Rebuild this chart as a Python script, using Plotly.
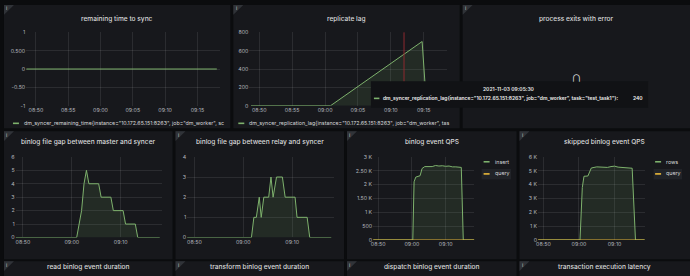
import plotly.graph_objects as go

W, H = 690, 276
DAY = "2021-11-03 "

# ---------------- data ----------------
remaining_time = ["08:48:30", "09:18:00"]
remaining_vals = [0, 0]

lag_time = ["08:48:45", "09:00:50", "09:14:45", "09:15:25"]
lag_vals = [0, 0, 700, 0]

master_gap_time = ["08:48:30", "09:01:00", "09:02:00", "09:02:30", "09:03:00", "09:03:30",
                   "09:05:30", "09:06:00", "09:08:00", "09:08:30", "09:10:30", "09:11:00",
                   "09:13:00", "09:13:30", "09:18:00"]
master_gap_vals = [0, 0, 2, 4, 5, 4, 4, 3, 3, 2, 2, 1, 1, 0, 0]

relay_gap_time = ["08:48:30", "09:01:40", "09:02:10", "09:02:40", "09:03:16", "09:03:40",
                  "09:04:12", "09:05:12", "09:05:40", "09:06:06", "09:06:48", "09:08:00",
                  "09:08:34", "09:10:36", "09:11:00", "09:13:04", "09:13:36", "09:18:00"]
relay_gap_vals = [0, 0, 1, 1, 2, 1, 2, 2, 3, 2, 3, 3, 2, 2, 1, 1, 0, 0]

qps_time = ["08:48:30", "09:00:15", "09:00:38", "09:01:08", "09:02:25", "09:03:00", "09:03:48",
            "09:05:00", "09:06:00", "09:07:00", "09:08:00", "09:09:00", "09:10:00",
            "09:11:00", "09:12:00", "09:13:00", "09:14:00", "09:14:38", "09:15:13", "09:18:30"]
qps_insert = [0, 0, 2100, 2270, 2320, 2580, 2650, 2660, 2650, 2690, 2670, 2680, 2660,
              2670, 2640, 2640, 2630, 2620, 0, 0]
qps_query_time = ["08:48:30", "09:18:30"]
qps_query = [0, 0]

skip_time = ["08:48:30", "09:00:17", "09:00:56", "09:01:24", "09:02:30", "09:03:28",
             "09:05:00", "09:06:00", "09:07:00", "09:08:00", "09:09:00", "09:10:00",
             "09:11:00", "09:12:00", "09:13:00", "09:14:00", "09:14:57", "09:15:53", "09:18:30"]
skip_rows = [0, 0, 3790, 4600, 4620, 5200, 5280, 5250, 5270, 5240, 5300, 5330,
             5260, 5250, 5230, 5200, 5180, 0, 0]
skip_query_time = ["08:48:30", "09:18:30"]
skip_query = [0, 0]

tooltip_time = "2021-11-03 09:05:30"
tooltip_value = 240
crosshair_time = "09:12:00"

# ---------------- styling ----------------
FONT = "Inter"
BG = "#0b0c0e"
PANEL = "#17181c"
GRID = "rgba(255,255,255,0.09)"
TICK = "#b4b7bd"
TITLE = "#d8d9da"
GREEN = "#7eb26d"
GFILL = "rgba(126,178,109,0.12)"
YELLOW = "#eab839"
R0, R1 = DAY + "08:48:30", DAY + "09:18:30"


def fx(px):
    return px / W


def fy(py):
    return 1 - py / H


fig = go.Figure()
layout = dict(
    width=W, height=H, margin=dict(l=0, r=0, t=0, b=0),
    paper_bgcolor=BG, plot_bgcolor="rgba(0,0,0,0)", showlegend=False,
    font=dict(family=FONT, color=TICK, size=5.3),
)
shapes, annos = [], []


def text(x, y, s, size=5.3, color=TITLE, xanchor="center", weight=400):
    annos.append(dict(x=fx(x), y=fy(y), xref="paper", yref="paper", text=s,
                      xanchor=xanchor, yanchor="middle", showarrow=False,
                      font=dict(size=size, color=color, weight=weight)))


def axes(i, p50, s, ytop, ybot, yr, tickvals, ticktext, dtick_min):
    left = p50 - 1.5 * s
    right = p50 + 28.5 * s
    xk = "xaxis" if i == 1 else f"xaxis{i}"
    yk = "yaxis" if i == 1 else f"yaxis{i}"
    layout[xk] = dict(domain=[fx(left), fx(right)], range=[R0, R1], type="date",
                      anchor="y" if i == 1 else f"y{i}", tickformat="%H:%M",
                      tick0=DAY + "08:50:00", dtick=dtick_min * 60000,
                      showgrid=True, gridcolor=GRID, gridwidth=1, zeroline=False,
                      showline=False, ticks="", tickfont=dict(size=5.3, color=TICK))
    layout[yk] = dict(domain=[fy(ybot), fy(ytop)], range=yr,
                      anchor="x" if i == 1 else f"x{i}", tickmode="array",
                      tickvals=tickvals, ticktext=ticktext, showgrid=True,
                      gridcolor=GRID, gridwidth=1, zeroline=False, showline=False,
                      ticks="", tickfont=dict(size=5.3, color=TICK))


def series(i, times, vals, color, fill=True):
    ax = "" if i == 1 else str(i)
    fig.add_trace(go.Scatter(
        x=[DAY + t for t in times], y=vals, mode="lines",
        line=dict(color=color, width=1), fill="tozeroy" if fill else None,
        fillcolor=GFILL if fill else None, xaxis="x" + ax, yaxis="y" + ax,
        hoverinfo="skip"))


def panel(x0, y0, x1, y1, title, ty):
    shapes.append(dict(type="rect", xref="paper", yref="paper", x0=fx(x0), x1=fx(x1),
                       y0=fy(y1), y1=fy(y0), fillcolor=PANEL, line=dict(width=0),
                       layer="below"))
    shapes.append(dict(type="path", xref="paper", yref="paper", layer="above",
                       path=f"M {fx(x0)},{fy(y0)} L {fx(x0 + 10)},{fy(y0)} L {fx(x0)},{fy(y0 + 10)} Z",
                       fillcolor="#303338", line=dict(width=0)))
    text(x0 + 3, y0 + 3.5, "i", size=5, color="#c8c8c8")
    text((x0 + x1) / 2, ty, title, size=6.6, weight=500)


def legend_item(x, y, s, color, size=5.3):
    shapes.append(dict(type="line", xref="paper", yref="paper", x0=fx(x), x1=fx(x + 6),
                       y0=fy(y), y1=fy(y), line=dict(color=color, width=1.6)))
    text(x + 9, y, s, size=size, xanchor="left")


# panels
panel(2, 2, 229, 128, "remaining time to sync", 16.7)
panel(232, 2, 459, 128, "replicate lag", 16.5)
panel(462, 2, 690, 128, "process exits with error", 16.5)
panel(2, 131, 171, 262, "binlog file gap between master and syncer", 142.3)
panel(174, 131, 343, 262, "binlog file gap between relay and syncer", 142.3)
panel(346, 131, 516, 262, "binlog event QPS", 142.3)
panel(519, 131, 690, 262, "skipped binlog event QPS", 142.3)
panel(2, 264, 171, 290, "read binlog event duration", 269.5)
panel(174, 264, 343, 290, "transform binlog event duration", 269.5)
panel(346, 264, 516, 290, "dispatch binlog event duration", 269.5)
panel(519, 264, 690, 290, "transaction execution latency", 269.5)

# axes
axes(1, 34, 6.48, 30, 105, [-1, 1], [1, 0.5, 0, -0.5, -1], ["1", "0.500", "0", "-0.50", "-1"], 5)
axes(2, 258, 6.6, 30, 105, [0, 800], [0, 200, 400, 600, 800], ["0", "200", "400", "600", "800"], 5)
axes(3, 21, 4.9, 157.3, 239.7, [0, 6], list(range(7)), [str(v) for v in range(7)], 10)
axes(4, 193, 4.9, 157.3, 239.7, [0, 4], list(range(5)), [str(v) for v in range(5)], 10)
axes(5, 377.3, 3.383, 157.3, 242.3, [0, 3000], [0, 500, 1000, 1500, 2000, 2500, 3000],
     ["0", "500", "1 K", "1.50 K", "2 K", "2.50 K", "3 K"], 10)
axes(6, 543, 3.567, 157.3, 242.3, [0, 6000], [0, 1000, 2000, 3000, 4000, 5000, 6000],
     ["0", "1 K", "2 K", "3 K", "4 K", "5 K", "6 K"], 10)

# series
series(1, remaining_time, remaining_vals, GREEN)
series(2, lag_time, lag_vals, GREEN)
series(3, master_gap_time, master_gap_vals, GREEN)
series(4, relay_gap_time, relay_gap_vals, GREEN)
series(5, qps_time, qps_insert, GREEN)
series(5, qps_query_time, qps_query, YELLOW, fill=False)
series(6, skip_time, skip_rows, GREEN)
series(6, skip_query_time, skip_query, YELLOW, fill=False)

# legends
legend_item(11, 123, 'dm_syncer_remaining_time{instance="10.172.65.151:8263", job="dm_worker", sc', GREEN)
legend_item(237, 123, 'dm_syncer_replication_lag{instance="10.172.65.151:8263", job="dm_worker", tas', GREEN)
shapes.append(dict(type="rect", xref="paper", yref="paper", x0=fx(481), x1=fx(510.5),
                   y0=fy(180.3), y1=fy(169.7), fillcolor="#212328", line=dict(width=0)))
shapes.append(dict(type="rect", xref="paper", yref="paper", x0=fx(653.5), x1=fx(682),
                   y0=fy(180.3), y1=fy(169.7), fillcolor="#212328", line=dict(width=0)))
legend_item(483, 162.3, "insert", GREEN)
legend_item(483, 174.7, "query", YELLOW)
legend_item(655, 162.3, "rows", GREEN)
legend_item(655, 174.7, "query", YELLOW)

# crosshair + tooltip
shapes.append(dict(type="line", xref="x2", yref="paper", x0=DAY + crosshair_time,
                   x1=DAY + crosshair_time, y0=fy(105), y1=fy(30),
                   line=dict(color="#8e2a30", width=1)))
shapes.append(dict(type="rect", xref="paper", yref="paper", x0=fx(370), x1=fx(648),
                   y0=fy(107), y1=fy(80), fillcolor="#111215", line=dict(width=0),
                   layer="above"))
text(508, 87.5, tooltip_time, size=5.0, color="#e8e8e8", weight=600)
shapes.append(dict(type="line", xref="paper", yref="paper", x0=fx(373), x1=fx(378.5),
                   y0=fy(97.5), y1=fy(97.5), line=dict(color=GREEN, width=1.6)))
text(380.5, 97.5,
     'dm_syncer_replication_lag{instance="10.172.65.151:8263", job="dm_worker", task="test_task1"}:',
     size=5.0, color="#f0f0f0", xanchor="left", weight=600)
text(638, 97.5, str(tooltip_value), size=5.0, color="#f0f0f0", weight=600)
text(576, 75, "∩", size=15, color="#d8d8d8")

layout["shapes"] = shapes
layout["annotations"] = annos
fig.update_layout(**layout)
fig.write_html("out.html")
